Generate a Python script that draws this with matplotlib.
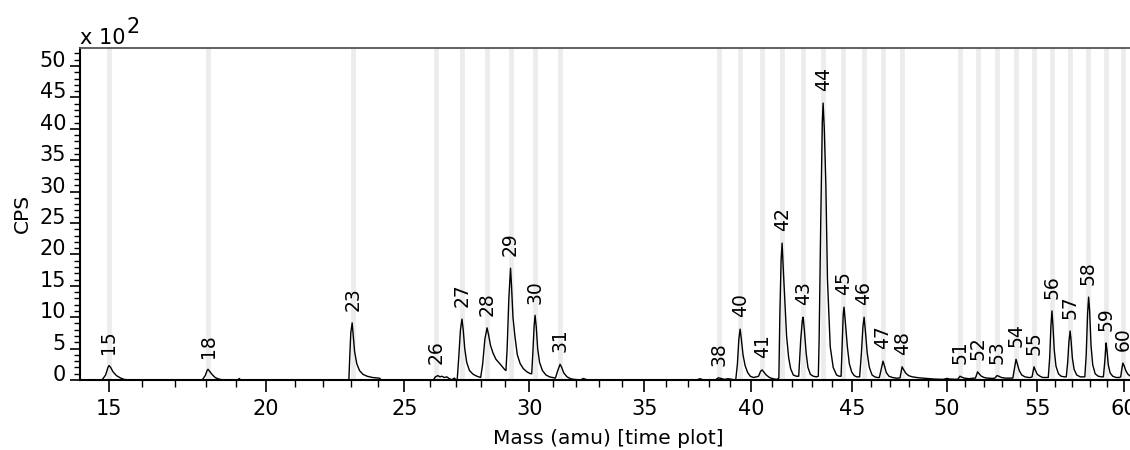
import numpy as np
import matplotlib
matplotlib.use("Agg")
import matplotlib.pyplot as plt
import matplotlib.transforms as mtransforms
from matplotlib.ticker import MultipleLocator

# ---- data (CPS in units of 10^2) ----
peak_labels = ["15", "18", "23", "26", "27", "28", "29", "30", "31", "38", "40", "41",
               "42", "43", "44", "45", "46", "47", "48", "51", "52", "53", "54", "55",
               "56", "57", "58", "59", "60"]
peak_mass = [15.0, 18.07, 23.07, 26.23, 27.25, 28.26, 29.22, 30.24, 31.3, 38.45, 39.46, 40.52,
             41.5, 42.54, 43.54, 44.57, 45.6, 46.61, 47.61, 50.71, 51.67, 52.74, 53.8, 54.81,
             55.83, 56.85, 57.93, 58.97, 59.95]
peak_height = [2.3, 1.7, 9.1, 0.7, 9.7, 8.3, 17.8, 10.3, 2.5, 0.4, 8.1, 1.6,
               21.8, 10.0, 44.1, 11.6, 10.0, 3.0, 2.1, 0.6, 1.3, 0.7, 3.3, 2.1,
               11.0, 7.8, 13.2, 5.9, 2.7]

trace_mass = [
    14.0, 14.80, 14.9, 14.97, 15.0, 15.05, 15.12, 15.22, 15.35, 15.45, 15.55,
    16.0, 17.88, 17.98, 18.04, 18.07, 18.12, 18.2, 18.3, 18.42, 18.55,
    19.05, 19.1, 19.14,
    22.93, 22.96, 23.0, 23.05, 23.09, 23.14, 23.22, 23.32, 23.45, 23.6, 23.8, 24.05, 24.15,
    26.12, 26.2, 26.3, 26.38, 26.45, 26.55, 26.65, 26.75, 26.85, 26.95, 27.02,
    27.06, 27.12, 27.19, 27.25, 27.3, 27.36, 27.44, 27.55, 27.7, 27.85, 28.0,
    28.08, 28.17, 28.26, 28.32, 28.4, 28.5, 28.62, 28.8, 28.97,
    29.03, 29.08, 29.15, 29.22, 29.26, 29.32, 29.4, 29.5, 29.62, 29.75, 29.9, 30.05,
    30.1, 30.15, 30.2, 30.24, 30.29, 30.35, 30.43, 30.55, 30.7, 30.85, 30.98,
    31.1, 31.2, 31.3, 31.37, 31.46, 31.6, 31.75, 31.9, 32.05,
    32.2, 32.3, 32.4, 32.55,
    37.4, 37.55, 37.7, 38.3, 38.42, 38.55, 38.7, 38.9, 39.15,
    39.25, 39.33, 39.4, 39.46, 39.52, 39.6, 39.7, 39.82, 39.95, 40.1, 40.25,
    40.35, 40.45, 40.52, 40.6, 40.72, 40.88, 41.05, 41.25,
    41.34, 41.39, 41.45, 41.5, 41.56, 41.65, 41.72, 41.82, 41.92, 42.05, 42.2,
    42.32, 42.42, 42.5, 42.54, 42.6, 42.69, 42.78, 42.9, 43.05, 43.2,
    43.3, 43.34, 43.42, 43.5, 43.54, 43.6, 43.68, 43.76, 43.9, 44.05, 44.22, 44.35,
    44.45, 44.51, 44.56, 44.6, 44.66, 44.77, 44.87, 44.99, 45.12, 45.25,
    45.4, 45.49, 45.57, 45.63, 45.69, 45.79, 45.9, 46.04, 46.18, 46.3,
    46.42, 46.52, 46.61, 46.68, 46.78, 46.92, 47.1, 47.3, 47.42,
    47.5, 47.56, 47.61, 47.68, 47.8, 47.95, 48.15, 48.5, 48.9, 49.3, 49.8, 50.0, 50.15, 50.5,
    50.58, 50.71, 50.8, 50.95, 51.2, 51.45,
    51.55, 51.67, 51.75, 51.88, 52.03, 52.2, 52.5,
    52.62, 52.74, 52.84, 52.98, 53.2, 53.5,
    53.62, 53.72, 53.8, 53.87, 53.98, 54.12, 54.3, 54.5, 54.62,
    54.7, 54.76, 54.81, 54.88, 55.0, 55.15, 55.3, 55.55,
    55.62, 55.7, 55.77, 55.83, 55.88, 55.96, 56.06, 56.2, 56.35, 56.55,
    56.65, 56.73, 56.8, 56.87, 56.92, 57.0, 57.1, 57.25, 57.45, 57.6,
    57.72, 57.8, 57.88, 57.94, 58.0, 58.08, 58.18, 58.32, 58.5, 58.7,
    58.8, 58.88, 58.96, 59.01, 59.09, 59.2, 59.35, 59.55, 59.75,
    59.82, 59.89, 59.95, 60.02, 60.12, 60.25, 60.4,
]
trace_cps = [
    0.0, 0.05, 0.8, 2.0, 2.3, 2.0, 1.3, 0.7, 0.3, 0.1, 0.02,
    0.0, 0.0, 0.7, 1.5, 1.7, 1.4, 0.9, 0.4, 0.15, 0.03,
    0.0, 0.25, 0.0,
    0.0, 3.5, 7.5, 9.1, 7.0, 4.5, 2.6, 1.5, 0.9, 0.6, 0.4, 0.3, 0.0,
    0.0, 0.5, 0.7, 0.5, 0.6, 0.4, 0.5, 0.2, 0.05, 0.3, 0.0,
    0.0, 3.5, 8.0, 9.7, 8.0, 5.0, 2.8, 1.5, 0.9, 0.6, 0.4,
    2.5, 6.5, 8.3, 7.2, 5.5, 4.3, 3.3, 2.5, 1.7,
    1.5, 5.0, 13.0, 17.8, 15.0, 10.0, 7.0, 4.0, 2.6, 1.8, 1.3, 1.0,
    1.0, 4.5, 8.5, 10.3, 8.5, 5.0, 2.8, 1.5, 0.8, 0.5, 0.4,
    0.3, 1.5, 2.5, 2.0, 1.1, 0.5, 0.2, 0.1, 0.05,
    0.05, 0.25, 0.1, 0.0,
    0.0, 0.2, 0.05, 0.05, 0.35, 0.25, 0.1, 0.2, 0.05,
    0.0, 2.5, 6.5, 8.1, 6.5, 4.0, 2.3, 1.2, 0.6, 0.4, 0.5,
    0.6, 1.4, 1.6, 1.3, 0.8, 0.4, 0.2, 0.1,
    0.3, 10.6, 19.0, 21.8, 17.5, 11.6, 7.0, 3.6, 1.8, 0.8, 0.6,
    0.6, 6.4, 9.5, 10.0, 8.0, 4.3, 2.0, 0.9, 0.6, 0.5,
    0.6, 6.4, 25.0, 41.0, 44.1, 40.0, 31.0, 16.0, 5.3, 2.0, 0.8, 0.6,
    0.6, 5.9, 10.5, 11.6, 9.5, 5.3, 2.6, 1.3, 0.7, 0.5,
    0.5, 4.3, 8.5, 10.0, 8.0, 4.3, 2.0, 0.8, 0.5, 0.4,
    0.4, 1.8, 3.0, 2.3, 1.2, 0.6, 0.4, 0.3, 0.3,
    0.35, 1.3, 2.1, 1.7, 1.1, 0.7, 0.5, 0.35, 0.25, 0.15, 0.1, 0.25, 0.15, 0.1,
    0.1, 0.6, 0.45, 0.3, 0.2, 0.3,
    0.3, 1.3, 1.0, 0.6, 0.4, 0.3, 0.25,
    0.3, 0.7, 0.6, 0.4, 0.3, 0.3,
    0.3, 2.0, 3.3, 2.6, 1.5, 0.8, 0.5, 0.4, 0.4,
    0.5, 1.4, 2.1, 1.6, 0.9, 0.6, 0.4, 0.4,
    0.4, 3.5, 8.5, 11.0, 9.0, 4.8, 2.2, 1.0, 0.6, 0.5,
    0.5, 2.8, 6.0, 7.8, 6.5, 3.5, 1.7, 0.8, 0.5, 0.5,
    0.5, 4.0, 10.5, 13.2, 11.0, 5.5, 2.4, 1.0, 0.6, 0.5,
    0.5, 2.8, 5.9, 4.8, 2.4, 1.1, 0.6, 0.4, 0.4,
    0.5, 1.8, 2.7, 2.3, 1.5, 0.9, 0.6,
]

x_major_ticks = [15, 20, 25, 30, 35, 40, 45, 50, 55, 60]
y_major_ticks = [0, 5, 10, 15, 20, 25, 30, 35, 40, 45, 50]

# ---- figure ----
plt.rcParams['font.family'] = ['DejaVu Sans']
W, H, DPI = 1130, 450, 100
fig = plt.figure(figsize=(W / DPI, H / DPI), dpi=DPI)
ax = fig.add_axes([80 / W, 70 / H, 1.0 - 80 / W, (380 - 48) / H])

ax.set_xscale('function', functions=(lambda v: np.sqrt(np.clip(v, 0, None)), np.square))
ax.set_xlim(14.155, 60.37)
ax.set_ylim(0, 52.87)

for m in peak_mass:
    ax.axvline(m, color='#ececec', lw=3.4, zorder=0)

ax.plot(trace_mass, trace_cps, color='black', lw=1.0, zorder=2, clip_on=True)

for lab, m, h in zip(peak_labels, peak_mass, peak_height):
    ax.annotate(lab, xy=(m, h), xytext=(0, 8.5), textcoords='offset points',
                rotation=90, ha='center', va='bottom', fontsize=13.5, zorder=3)

ax.set_xticks(x_major_ticks)
ax.set_xticklabels([str(t) for t in x_major_ticks])
ax.xaxis.set_minor_locator(MultipleLocator(1))
ax.set_yticks(y_major_ticks)
ax.set_yticklabels([str(t) for t in y_major_ticks])
ax.yaxis.set_minor_locator(MultipleLocator(1))

ax.tick_params(axis='x', which='major', direction='out', length=8.5, width=1.2, labelsize=15, pad=5)
ax.tick_params(axis='x', which='minor', direction='out', length=5, width=1.0)
ax.tick_params(axis='y', which='major', direction='out', length=7, width=1.2, labelsize=15, pad=3)
ax.tick_params(axis='y', which='minor', direction='out', length=4, width=1.0)

offset = mtransforms.ScaledTranslation(0, 7 / DPI, fig.dpi_scale_trans)
for lbl in ax.get_yticklabels():
    lbl.set_transform(lbl.get_transform() + offset)

ax.spines['right'].set_visible(False)
ax.spines['left'].set_linewidth(1.5)
ax.spines['bottom'].set_linewidth(1.5)
ax.spines['top'].set_linewidth(1.3)
ax.spines['top'].set_color('#555555')

fig.text(22 / W, 1 - 213 / H, 'CPS', rotation=90, ha='center', va='center', fontsize=14.5)
fig.text(608 / W, 1 - 438 / H, 'Mass (amu) [time plot]', ha='center', va='center', fontsize=14.5)
fig.text(80 / W, 1 - 38 / H, 'x 10', ha='left', va='center', fontsize=15)
fig.text(126 / W, 1 - 27 / H, '2', ha='left', va='center', fontsize=15)

fig.savefig('out.png', dpi=DPI)
